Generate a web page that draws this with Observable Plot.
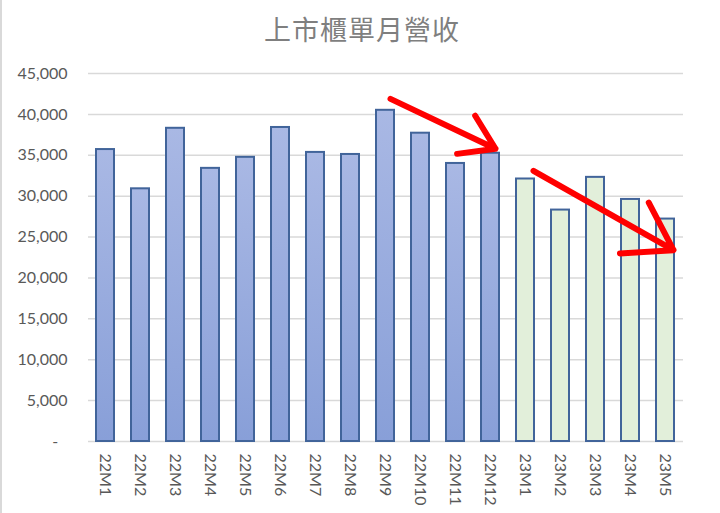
<!DOCTYPE html>
<html>
<head>
<meta charset="utf-8">
<script src="https://cdn.jsdelivr.net/npm/d3@7"></script>
<script src="https://cdn.jsdelivr.net/npm/@observablehq/plot@0.6"></script>
<style>
  body { margin: 0; background: #fff; }
  #wrap { position: relative; width: 720px; height: 513px; overflow: hidden; background: #fff; }
  #edge { position: absolute; left: 0; top: 0; width: 2px; height: 513px; background: #d9d9d9; }
  #title { position: absolute; top: 14px; left: 0; width: 720px; padding-left: 4px; box-sizing: border-box;
           text-align: center; font-family: "Noto Sans CJK TC", sans-serif; font-size: 27px; line-height: 30px;
           letter-spacing: 1px; color: #7f7f7f; }
  #chart { position: absolute; top: 52px; left: 0; }
</style>
</head>
<body>
<div id="wrap">
  <div id="edge"></div>
  <div id="title">上市櫃單月營收</div>
  <div id="chart"></div>
</div>
<script>
const titleText = "上市櫃單月營收";
const months22 = ["22M1","22M2","22M3","22M4","22M5","22M6","22M7","22M8","22M9","22M10","22M11","22M12"];
const values22 = [35700, 30900, 38300, 33400, 34750, 38400, 35350, 35100, 40500, 37700, 34000, 35250];
const months23 = ["23M1","23M2","23M3","23M4","23M5"];
const values23 = [32100, 28300, 32300, 29600, 27200];
const yTicks = [0, 5000, 10000, 15000, 20000, 25000, 30000, 35000, 40000, 45000];
// red trend arrows (annotation): from month/value to month/value
const arrowFromMonth = ["22M9", "23M1"];
const arrowFromValue = [41900, 33100];
const arrowToMonth = ["22M12", "23M5"];
const arrowToValue = [35800, 23400];

const d22 = months22.map((m, i) => ({month: m, value: values22[i]}));
const d23 = months23.map((m, i) => ({month: m, value: values23[i]}));
const arrows = arrowFromMonth.map((m, i) => ({x1: m, y1: arrowFromValue[i], x2: arrowToMonth[i], y2: arrowToValue[i]}));
const allMonths = months22.concat(months23);
const fmt = d3.format(",");

const defs = () => {
  const ns = "http://www.w3.org/2000/svg";
  const d = document.createElementNS(ns, "defs");
  const g = document.createElementNS(ns, "linearGradient");
  g.setAttribute("id", "g22");
  g.setAttribute("x1", "0"); g.setAttribute("y1", "0");
  g.setAttribute("x2", "0"); g.setAttribute("y2", "1");
  [["0%", "#a9b8e4"], ["100%", "#889fd8"]].forEach(([o, c]) => {
    const s = document.createElementNS(ns, "stop");
    s.setAttribute("offset", o); s.setAttribute("stop-color", c);
    g.appendChild(s);
  });
  d.appendChild(g);
  return d;
};

const plot = Plot.plot({
  width: 720,
  height: 461,
  marginLeft: 88,
  marginRight: 37,
  marginTop: 21,
  marginBottom: 72,
  style: { fontFamily: "Lato, 'Liberation Sans', sans-serif", fontSize: "16px", color: "#595959", background: "transparent" },
  x: { domain: allMonths, paddingInner: 0.48, paddingOuter: 0.24, label: null },
  y: { domain: [0, 45000], label: null },
  marks: [
    defs,
    Plot.gridY(yTicks, { stroke: "#d9d9d9", strokeOpacity: 1, strokeWidth: 1.5 }),
    Plot.barY(d22, { x: "month", y: "value", fill: "url(#g22)", stroke: "#41649a", strokeWidth: 2 }),
    Plot.barY(d23, { x: "month", y: "value", fill: "#e2efda", stroke: "#41649a", strokeWidth: 2 }),
    Plot.axisY(yTicks, { tickSize: 0, tickPadding: 21, fontSize: 16, tickFormat: d => d === 0 ? "-\u2007" : fmt(d), label: null }),
    Plot.axisX({ tickRotate: 90, tickSize: 0, tickPadding: 12, fontSize: 16, label: null }),
    Plot.arrow([arrows[0]], { x1: "x1", y1: "y1", x2: "x2", y2: "y2", dx: 5, stroke: "#ff0000", strokeWidth: 6, headLength: 26, headAngle: 66 }),
    Plot.arrow([arrows[1]], { x1: "x1", y1: "y1", x2: "x2", y2: "y2", dx: 8, stroke: "#ff0000", strokeWidth: 6, headLength: 26, headAngle: 66 })
  ]
});
document.getElementById("chart").appendChild(plot);
</script>
</body>
</html>
